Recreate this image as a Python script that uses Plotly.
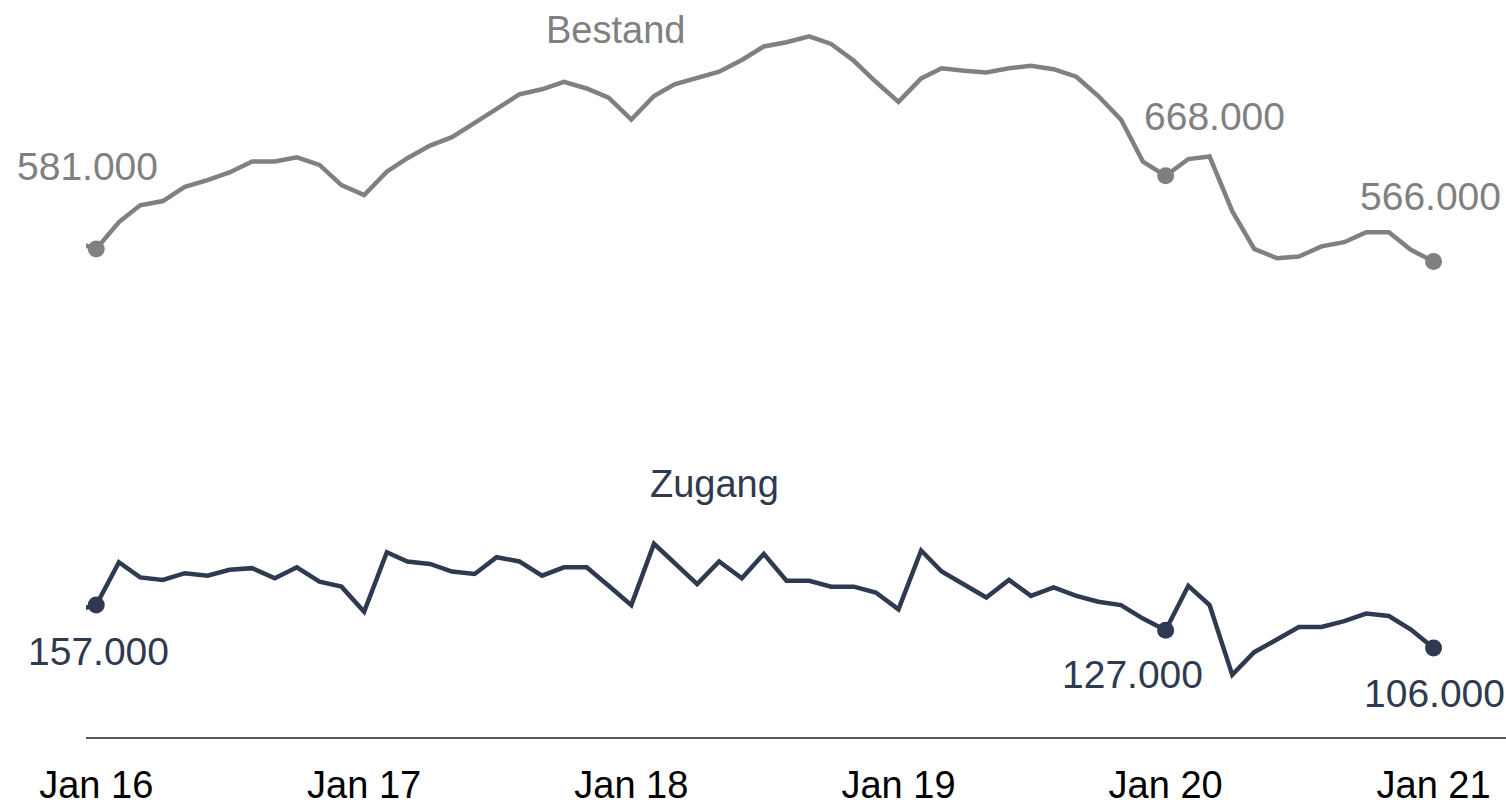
import pandas as pd
import plotly.graph_objects as go

# ---- data (monthly, Dec 2015 .. Jan 2021), values in thousands ----
dates = pd.date_range("2015-12-01", periods=62, freq="MS")

bestand = [590,
           581, 613, 633, 638, 655, 663, 672, 685, 685, 690, 681, 657,
           645, 673, 689, 704, 714, 731, 748, 765, 771, 780, 772, 761,
           735, 763, 777, 784, 792, 806, 822, 827, 834, 825, 805, 780,
           756, 784, 796, 793, 791, 796, 799, 795, 786, 763, 735, 685,
           668, 688, 691, 626, 581, 570, 572, 584, 589, 601, 601, 580,
           566]

zugang = [150,
          157, 208, 190, 187, 195, 192, 199, 201, 189, 202, 185, 179,
          149, 220, 209, 206, 197, 194, 214, 209, 192, 202, 202, 180,
          157, 230, 207, 182, 209, 189, 218, 186, 186, 179, 179, 172,
          152, 222, 197, 182, 166, 187, 168, 178, 168, 161, 157, 141,
          127, 180, 157, 74, 101, 116, 131, 131, 138, 147, 144, 128,
          106]

highlight_idx = [1, 49, 61]          # Jan 16, Jan 20, Jan 21
tick_vals = ["2016-01-01", "2017-01-01", "2018-01-01", "2019-01-01", "2020-01-01", "2021-01-01"]
tick_text = ["Jan 16", "Jan 17", "Jan 18", "Jan 19", "Jan 20", "Jan 21"]

GRAY = "#808080"
NAVY = "#2E3A50"
FONT = "Liberation Sans, Arial, sans-serif"
FS = 38
FS_VAL = 39

fig = go.Figure()

for vals, col in [(bestand, GRAY), (zugang, NAVY)]:
    fig.add_trace(go.Scatter(x=dates, y=vals, mode="lines",
                             line=dict(color=col, width=4.5), hoverinfo="skip"))
    fig.add_trace(go.Scatter(x=[dates[i] for i in highlight_idx],
                             y=[vals[i] for i in highlight_idx],
                             mode="markers", cliponaxis=False,
                             marker=dict(color=col, size=17), hoverinfo="skip"))

def fmt(v):
    return f"{v}.000"

# value labels: (series, index, color, xshift, yshift)
label_specs = [
    (bestand, 1, GRAY, -9, 82),
    (bestand, 49, GRAY, 49, 59),
    (bestand, 61, GRAY, -3, 65),
    (zugang, 1, NAVY, 2, -46),
    (zugang, 49, NAVY, -33, -44),
    (zugang, 61, NAVY, 1, -46),
]
for series, i, col, xs, ys in label_specs:
    fig.add_annotation(x=dates[i], y=series[i], text=fmt(series[i]), showarrow=False,
                       xshift=xs, yshift=ys, xanchor="center", yanchor="middle",
                       font=dict(family=FONT, size=FS_VAL, color=col))

# series names
fig.add_annotation(x="2017-12-10", y=842, text="Bestand", showarrow=False,
                   xanchor="center", yanchor="middle",
                   font=dict(family=FONT, size=FS, color=GRAY))
fig.add_annotation(x="2018-04-25", y=301, text="Zugang", showarrow=False,
                   xanchor="center", yanchor="middle",
                   font=dict(family=FONT, size=FS, color=NAVY))

fig.update_layout(
    width=1506, height=806,
    margin=dict(l=86, r=0, t=7, b=64),
    paper_bgcolor="white", plot_bgcolor="white",
    showlegend=False,
    font=dict(family=FONT, size=FS, color="black"),
    xaxis=dict(type="date", range=["2015-12-18", "2021-04-10"],
               tickvals=tick_vals, ticktext=tick_text,
               showgrid=False, zeroline=False,
               showline=True, linecolor="#595959", linewidth=1.5,
               ticks="", ticklabelstandoff=14,
               tickfont=dict(family=FONT, size=FS, color="black")),
    yaxis=dict(range=[0, 869], visible=False, showgrid=False, zeroline=False),
)

fig.write_html("out.html", config={"displayModeBar": False},
               post_script="document.body.style.margin='0';")
